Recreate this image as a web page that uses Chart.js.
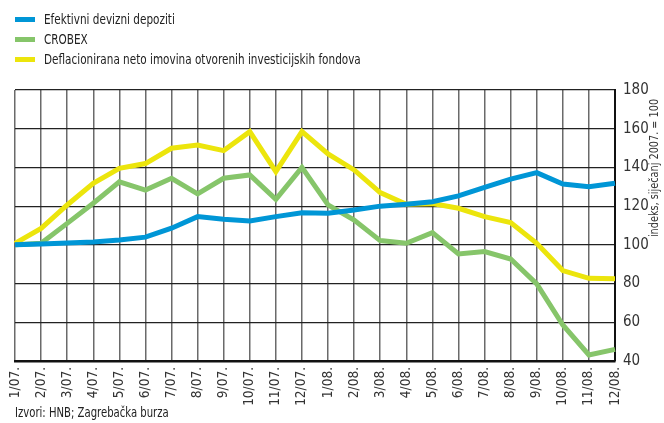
<!DOCTYPE html>
<html lang="hr">
<head>
    <meta charset="UTF-8">
    <title>Indeksi</title>
    <script src="https://cdn.jsdelivr.net/npm/chart.js"></script>
    <style>
        body {
            margin: 0;
            background: #fff;
            font-family: 'Liberation Sans Narrow', 'DejaVu Sans Condensed', 'Roboto Condensed', 'Arial Narrow', sans-serif;
        }
        .wrap {
            position: relative;
            width: 664px;
            height: 423px;
        }
        #legend {
            position: absolute;
            left: 15px;
            top: 9px;
            font-size: 14px;
            color: #222;
        }
        .item {
            display: flex;
            align-items: center;
            height: 20px;
        }
        .swatch {
            width: 20px;
            height: 5px;
            margin-right: 9px;
        }
        .narrow {
            display: inline-block;
            white-space: nowrap;
            transform: scaleX(0.83);
            transform-origin: left center;
        }
        #source {
            position: absolute;
            left: 15px;
            top: 404px;
            font-size: 13.5px;
            color: #222;
        }
    </style>
</head>
<body>
    <div class="wrap">
        <canvas id="chart" width="664" height="423"></canvas>
        <div id="legend"></div>
        <div id="source"><span class="narrow">Izvori: HNB; Zagrebačka burza</span></div>
    </div>

    <script>
        const labels = ['1/07.', '2/07.', '3/07.', '4/07.', '5/07.', '6/07.', '7/07.', '8/07.', '9/07.', '10/07.', '11/07.', '12/07.',
                        '1/08.', '2/08.', '3/08.', '4/08.', '5/08.', '6/08.', '7/08.', '8/08.', '9/08.', '10/08.', '11/08.', '12/08.'];

        const depoziti = [100, 100.5, 101, 101.5, 102.5, 104, 108.6, 114.6, 113.2, 112.3, 114.6, 116.6,
                          116.3, 118, 120, 121, 122.3, 125.3, 129.7, 134, 137.3, 131.4, 130, 131.8];
        const crobex = [100, 100.8, 111.1, 121.5, 132.6, 128.3, 134.4, 126.3, 134.4, 136.1, 123.5, 140,
                        120.6, 112.8, 102.2, 100.8, 106.3, 95.3, 96.5, 92.7, 79.8, 58.6, 43.1, 46];
        const fondovi = [100.8, 108.5, 120.6, 131.8, 139.5, 142, 149.9, 151.6, 148.7, 158.5, 137.8, 158.5,
                         147, 138.7, 127, 121, 121.3, 118.9, 114.6, 111.5, 100.8, 86.7, 82.7, 82.5];

        const yTicks = [40, 60, 80, 100, 120, 140, 160, 180];
        const yTitle = 'indeks, siječanj 2007. = 100';

        const FONT = "'Liberation Sans Narrow', 'DejaVu Sans Condensed', 'Roboto Condensed', 'Arial Narrow', sans-serif";

        const series = [
            { label: 'Efektivni devizni depoziti', data: depoziti, color: '#0096d6' },
            { label: 'CROBEX', data: crobex, color: '#86c56a' },
            { label: 'Deflacionirana neto imovina otvorenih investicijskih fondova', data: fondovi, color: '#ece50c' }
        ];

        // legend as html, one item per row
        const legend = document.getElementById('legend');
        series.forEach(s => {
            const row = document.createElement('div');
            row.className = 'item';
            row.innerHTML = '<span class="swatch" style="background:' + s.color + '"></span><span class="narrow">' + s.label + '</span>';
            legend.appendChild(row);
        });

        // right axis title reads bottom to top
        const axisTitle = {
            id: 'axisTitle',
            afterDraw(chart) {
                const ctx = chart.ctx;
                const area = chart.chartArea;
                ctx.save();
                ctx.translate(655, area.top + 78);
                ctx.rotate(-Math.PI / 2);
                ctx.scale(0.9, 1);
                ctx.font = '12px ' + FONT;
                ctx.fillStyle = '#333';
                ctx.textAlign = 'center';
                ctx.textBaseline = 'middle';
                ctx.fillText(yTitle, 0, 0);
                ctx.restore();
            }
        };

        new Chart(document.getElementById('chart'), {
            type: 'line',
            data: {
                labels: labels,
                datasets: series.map(s => ({
                    label: s.label,
                    data: s.data,
                    borderColor: s.color,
                    backgroundColor: s.color,
                    borderWidth: 5,
                    pointRadius: 0,
                    tension: 0,
                    borderJoinStyle: 'miter',
                    fill: false
                }))
            },
            options: {
                responsive: false,
                animation: false,
                layout: { padding: { left: 15, top: 90, right: 0, bottom: 0 } },
                plugins: {
                    legend: { display: false },
                    tooltip: { enabled: false }
                },
                scales: {
                    x: {
                        offset: false,
                        grid: { color: '#6a6a6a', lineWidth: 1.5, drawTicks: false },
                        border: { color: '#111', width: 2.5 },
                        ticks: {
                            minRotation: 90,
                            maxRotation: 90,
                            autoSkip: false,
                            padding: 6,
                            color: '#333',
                            font: { family: FONT, size: 13.5 }
                        },
                        afterFit(scale) { scale.height = 62; }
                    },
                    y: {
                        position: 'right',
                        min: 40,
                        max: 180,
                        afterBuildTicks(scale) { scale.ticks = yTicks.map(v => ({ value: v })); },
                        grid: { color: '#222', lineWidth: 1.2, drawTicks: false },
                        border: { color: '#111', width: 2 },
                        ticks: {
                            padding: 8,
                            color: '#333',
                            font: { family: FONT, size: 15 }
                        },
                        afterFit(scale) { scale.width = 49; }
                    }
                }
            },
            plugins: [axisTitle]
        });
    </script>
</body>
</html>
